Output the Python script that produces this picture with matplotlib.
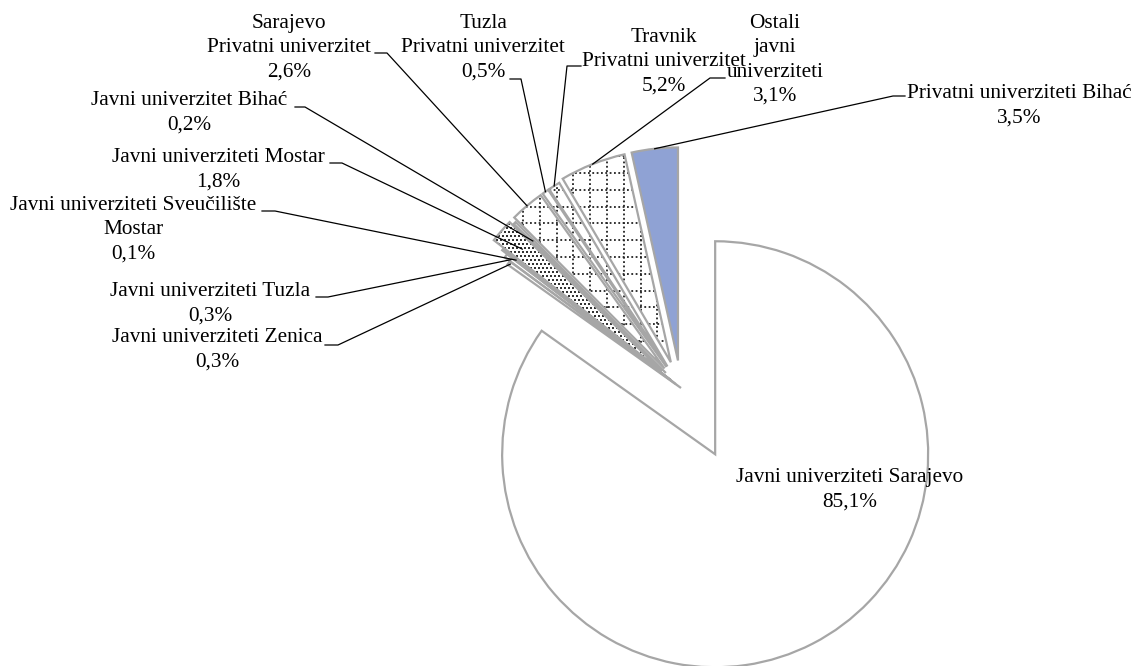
import numpy as np
import matplotlib.pyplot as plt
from matplotlib.patches import Wedge
from matplotlib.collections import LineCollection

plt.rcParams['font.family'] = ['Liberation Serif', 'DejaVu Serif']

# Categories in drawing order (counter-clockwise from 12 o'clock)
names = ["Privatni univerziteti Bihać",
         "Ostali\njavni\nuniverziteti",
         "Travnik\nPrivatni univerzitet",
         "Tuzla\nPrivatni univerzitet",
         "Sarajevo\nPrivatni univerzitet",
         "Javni univerzitet Bihać",
         "Javni univerziteti Mostar",
         "Javni univerziteti Sveučilište\nMostar",
         "Javni univerziteti Tuzla",
         "Javni univerziteti Zenica",
         "Javni univerziteti Sarajevo"]
# percentages as printed on the chart
pct_labels = ["3,5%", "3,1%", "5,2%", "0,5%", "2,6%", "0,2%",
              "1,8%", "0,1%", "0,3%", "0,3%", "85,1%"]
# slice sizes as drawn in the picture (%)
shares = [3.5, 5.0, 0.9, 0.5, 2.6, 0.2, 1.8, 0.1, 0.3, 0.3, 85.1]

fills = ['blue', 'grid', 'grid', 'grid', 'grid', 'plain',
         'dots', 'plain', 'plain', 'plain', 'plain']
explode = [0.13, 0.13, 0.12, 0.12, 0.12, 0.10, 0.12, 0.06, 0.03, 0.0, 0.35]

# label layout in image pixels: block centre, leader start (x0, x1, y)
label_xy = [(1019, 106), (775, 60), (664, 62), (483, 48), (289, 48),
            (189, 113), (218, 170), (133, 230), (210, 304), (217, 350),
            (850, 490)]
leaders = [(905, 893, 96), (725, 710, 78), (581, 567, 66), (510, 521, 79),
           (375, 387, 53), (295, 305, 107), (330, 342, 163), (262, 275, 211),
           (316, 328, 297), (325, 338, 345), None]
anchor_r = [1.0, 1.0, 1.0, 1.0, 1.0, 0.88, 0.87, 0.92, 0.97, 0.99, None]

W, H = 1142, 666
R = 213
C = (681, H - 388)
EDGE = '#A6A6A6'
colors = {'blue': '#8FA2D4', 'grid': 'white', 'dots': 'white', 'plain': 'white'}

fig = plt.figure(figsize=(W / 100, H / 100), dpi=100)
ax = fig.add_axes([0, 0, 1, 1])

wedges, _ = ax.pie(shares, startangle=90, counterclock=True, radius=R, center=C,
                   explode=[e * R for e in explode],
                   colors=[colors[f] for f in fills],
                   wedgeprops=dict(linewidth=0, edgecolor=EDGE))

for w, f in zip(wedges, fills):
    cx, cy = w.center
    if f == 'grid':
        step = 16.8
        xs = np.arange(523 - step * 60, W, step)
        ys = np.arange((H - 173) - step * 60, H, step)
        xs = xs[(xs > cx - R) & (xs < cx + R)]
        ys = ys[(ys > cy - R) & (ys < cy + R)]
        segs = [[(x, cy - R), (x, cy + R)] for x in xs]
        segs += [[(cx - R, y), (cx + R, y)] for y in ys]
        lc = LineCollection(segs, colors='#222222', linewidths=1.3,
                            linestyles=[(0, (1, 1.4))], zorder=1.5)
        ax.add_collection(lc)
        lc.set_clip_path(w)
    elif f == 'dots':
        gx, gy = np.meshgrid(np.arange(cx - R, cx + R, 4.0),
                             np.arange(cy - R, cy + R, 4.0))
        gx = gx + (np.arange(gx.shape[0])[:, None] % 2) * 2.0
        sc = ax.scatter(gx.ravel(), gy.ravel(), s=1.6, marker='s',
                        c='#333333', linewidths=0, zorder=1.5)
        sc.set_clip_path(w)
    ax.add_patch(Wedge(w.center, w.r, w.theta1, w.theta2, fill=False,
                       edgecolor=EDGE, linewidth=1.6, zorder=3,
                       joinstyle='miter'))

for w, name, pct, (lx, ly), ld, ar in zip(wedges, names, pct_labels,
                                           label_xy, leaders, anchor_r):
    ax.text(lx, H - ly, name + "\n" + pct, ha='center', va='center',
            multialignment='center', fontsize=15.3, linespacing=1.38,
            zorder=4)
    if ld is None:
        continue
    mid = np.deg2rad(0.5 * (w.theta1 + w.theta2))
    axp = w.center[0] + ar * w.r * np.cos(mid)
    ayp = w.center[1] + ar * w.r * np.sin(mid)
    ax.plot([ld[0], ld[1], axp], [H - ld[2], H - ld[2], ayp],
            color='black', linewidth=0.9, zorder=4)

ax.set_xlim(0, W)
ax.set_ylim(0, H)
ax.axis('off')
fig.savefig('out.png', dpi=100)
